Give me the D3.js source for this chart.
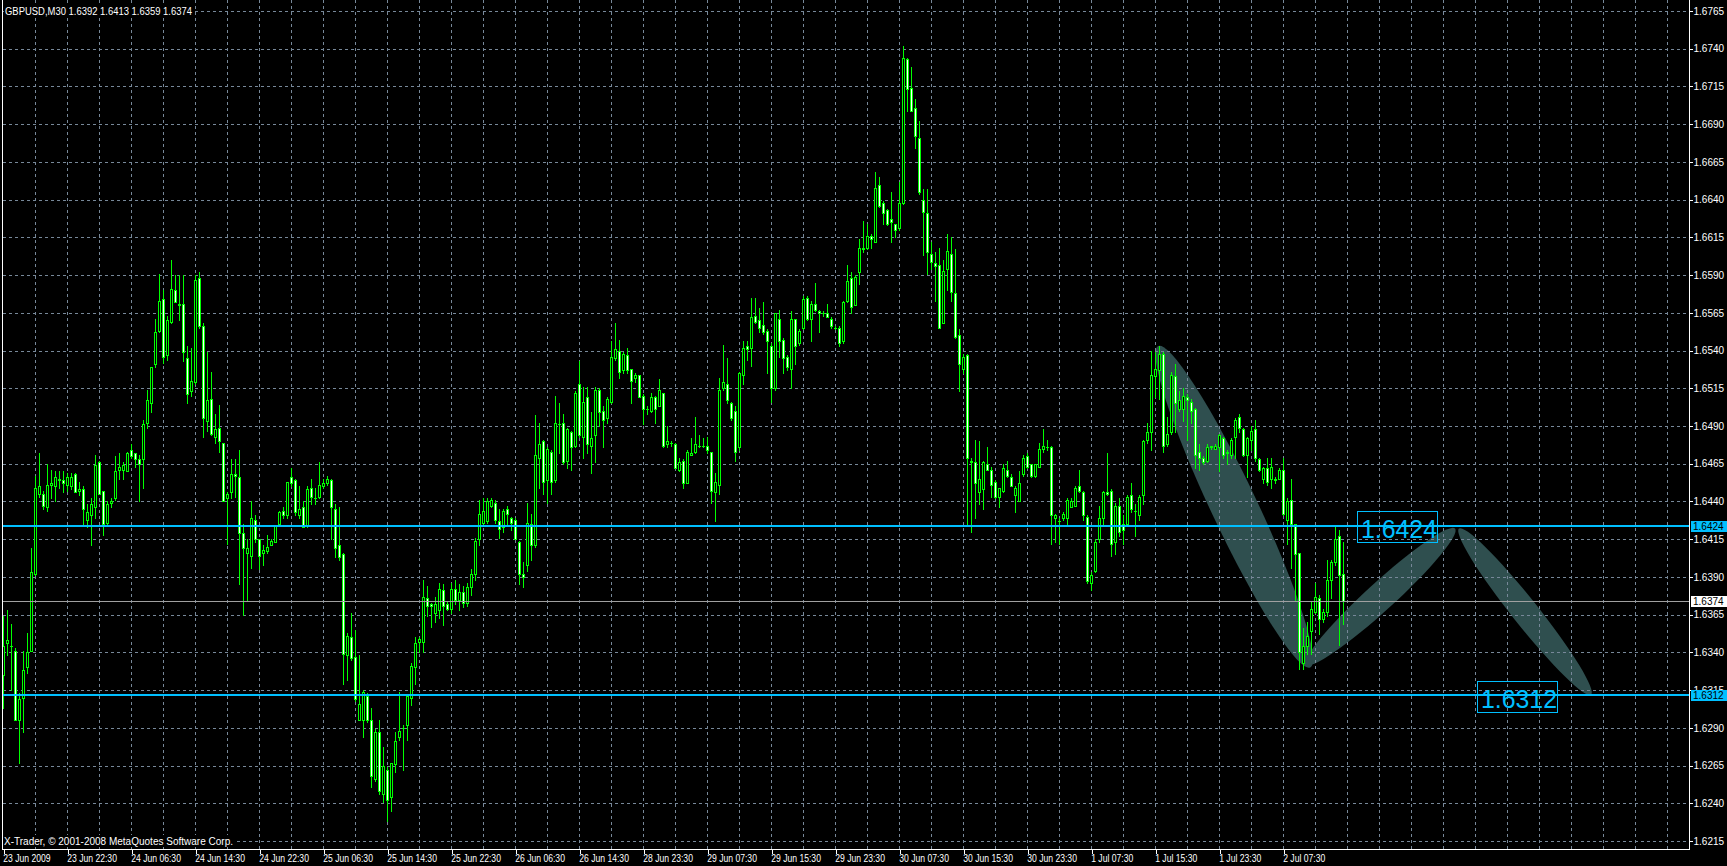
<!DOCTYPE html>
<html><head><meta charset="utf-8">
<script src="https://cdn.jsdelivr.net/npm/d3@7"></script>
<style>html,body{margin:0;padding:0;background:#000;overflow:hidden}text{font-family:"Liberation Sans",Arial,sans-serif}</style>
</head><body>
<svg id="c" width="1727" height="866"></svg>
<script>
const symbolTitle = "GBPUSD,M30  1.6392 1.6413 1.6359 1.6374";
const copyright = "X-Trader, \u00A9 2001-2008 MetaQuotes Software Corp.";

const open = [
1.6325,1.6346,1.6344,1.6341,1.6295,1.6310,1.6330,1.6341,1.6392,1.6445,1.6445,1.6436,
1.6451,1.6450,1.6455,1.6454,1.6451,1.6450,1.6458,1.6447,1.6448,1.6428,1.6431,1.6436,
1.6466,1.6447,1.6426,1.6439,1.6442,1.6461,1.6461,1.6460,1.6474,1.6472,1.6468,1.6468,
1.6492,1.6505,1.6531,1.6553,1.6574,1.6537,1.6559,1.6580,1.6571,1.6571,1.6535,1.6513,
1.6519,1.6588,1.6556,1.6493,1.6508,1.6483,1.6489,1.6479,1.6442,1.6446,1.6458,1.6456,
1.6419,1.6406,1.6404,1.6428,1.6415,1.6406,1.6407,1.6411,1.6413,1.6425,1.6434,1.6431,
1.6456,1.6454,1.6431,1.6436,1.6424,1.6449,1.6442,1.6443,1.6450,1.6452,1.6454,1.6435,
1.6411,1.6405,1.6338,1.6350,1.6337,1.6295,1.6295,1.6311,1.6295,1.6256,1.6287,1.6246,
1.6262,1.6244,1.6266,1.6284,1.6290,1.6292,1.6310,1.6330,1.6347,1.6347,1.6376,1.6372,
1.6366,1.6368,1.6381,1.6372,1.6369,1.6382,1.6375,1.6380,1.6373,1.6383,1.6392,1.6415,
1.6426,1.6427,1.6437,1.6439,1.6427,1.6423,1.6435,1.6429,1.6428,1.6413,1.6392,1.6398,
1.6425,1.6411,1.6469,1.6480,1.6454,1.6473,1.6454,1.6491,1.6492,1.6467,1.6486,1.6477,
1.6518,1.6483,1.6509,1.6477,1.6484,1.6514,1.6500,1.6495,1.6506,1.6535,1.6540,1.6527,
1.6537,1.6528,1.6522,1.6524,1.6510,1.6501,1.6500,1.6509,1.6503,1.6512,1.6478,1.6479,
1.6478,1.6461,1.6467,1.6452,1.6471,1.6473,1.6477,1.6477,1.6477,1.6473,1.6446,1.6451,
1.6515,1.6518,1.6505,1.6500,1.6476,1.6524,1.6543,1.6542,1.6563,1.6560,1.6557,1.6553,
1.6543,1.6515,1.6561,1.6547,1.6536,1.6528,1.6561,1.6545,1.6555,1.6575,1.6561,1.6571,
1.6566,1.6565,1.6565,1.6561,1.6555,1.6555,1.6546,1.6573,1.6588,1.6570,1.6592,1.6607,
1.6608,1.6616,1.6612,1.6650,1.6638,1.6633,1.6627,1.6624,1.6621,1.6638,1.6733,1.6714,
1.6701,1.6681,1.6640,1.6631,1.6604,1.6598,1.6597,1.6558,1.6594,1.6604,1.6578,1.6550,
1.6528,1.6537,1.6467,1.6466,1.6446,1.6448,1.6465,1.6461,1.6453,1.6443,1.6447,1.6461,
1.6456,1.6444,1.6440,1.6458,1.6470,1.6465,1.6457,1.6463,1.6475,1.6476,1.6476,1.6429,
1.6427,1.6429,1.6429,1.6436,1.6437,1.6450,1.6446,1.6430,1.6386,1.6394,1.6415,1.6429,
1.6446,1.6447,1.6413,1.6437,1.6425,1.6425,1.6444,1.6434,1.6431,1.6444,1.6481,1.6486,
1.6523,1.6527,1.6538,1.6478,1.6486,1.6523,1.6501,1.6501,1.6509,1.6506,1.6501,1.6473,
1.6469,1.6467,1.6477,1.6475,1.6476,1.6482,1.6472,1.6471,1.6483,1.6496,1.6488,1.6471,
1.6481,1.6488,1.6468,1.6455,1.6462,1.6455,1.6455,1.6455,1.6461,1.6428,1.6441,1.6425,
1.6406,1.6333,1.6344,1.6354,1.6367,1.6376,1.6362,1.6367,1.6388,1.6400,1.6417,1.6392];

const high = [
1.6364,1.6368,1.6359,1.6343,1.6313,1.6341,1.6353,1.6409,1.6457,1.6472,1.6447,1.6465,
1.6461,1.6460,1.6460,1.6460,1.6459,1.6459,1.6459,1.6453,1.6450,1.6438,1.6442,1.6471,
1.6467,1.6447,1.6440,1.6442,1.6470,1.6472,1.6466,1.6473,1.6478,1.6472,1.6471,1.6494,
1.6514,1.6529,1.6561,1.6591,1.6580,1.6563,1.6600,1.6590,1.6590,1.6590,1.6543,1.6542,
1.6590,1.6592,1.6558,1.6539,1.6526,1.6498,1.6504,1.6479,1.6446,1.6468,1.6468,1.6474,
1.6425,1.6415,1.6440,1.6431,1.6415,1.6411,1.6418,1.6415,1.6424,1.6434,1.6436,1.6453,
1.6462,1.6455,1.6450,1.6440,1.6450,1.6455,1.6449,1.6466,1.6455,1.6457,1.6455,1.6438,
1.6436,1.6406,1.6353,1.6366,1.6355,1.6338,1.6315,1.6313,1.6303,1.6289,1.6295,1.6277,
1.6264,1.6267,1.6287,1.6314,1.6292,1.6311,1.6333,1.6350,1.6350,1.6388,1.6384,1.6373,
1.6377,1.6386,1.6385,1.6374,1.6386,1.6388,1.6385,1.6384,1.6386,1.6395,1.6416,1.6441,
1.6442,1.6442,1.6442,1.6441,1.6435,1.6435,1.6437,1.6430,1.6429,1.6414,1.6400,1.6439,
1.6432,1.6497,1.6492,1.6481,1.6476,1.6474,1.6510,1.6505,1.6498,1.6489,1.6487,1.6513,
1.6533,1.6516,1.6516,1.6499,1.6516,1.6515,1.6503,1.6509,1.6546,1.6558,1.6547,1.6539,
1.6542,1.6528,1.6525,1.6524,1.6511,1.6503,1.6512,1.6510,1.6521,1.6512,1.6490,1.6480,
1.6479,1.6469,1.6468,1.6474,1.6482,1.6496,1.6484,1.6482,1.6483,1.6473,1.6459,1.6522,
1.6544,1.6535,1.6506,1.6503,1.6526,1.6546,1.6546,1.6575,1.6575,1.6568,1.6572,1.6554,
1.6545,1.6565,1.6567,1.6548,1.6537,1.6566,1.6561,1.6554,1.6576,1.6576,1.6573,1.6585,
1.6567,1.6566,1.6571,1.6562,1.6556,1.6556,1.6573,1.6597,1.6592,1.6590,1.6614,1.6626,
1.6624,1.6617,1.6658,1.6655,1.6639,1.6634,1.6645,1.6624,1.6652,1.6742,1.6734,1.6728,
1.6707,1.6692,1.6647,1.6647,1.6612,1.6605,1.6608,1.6600,1.6617,1.6615,1.6607,1.6554,
1.6538,1.6538,1.6469,1.6481,1.6480,1.6467,1.6476,1.6463,1.6454,1.6449,1.6465,1.6467,
1.6458,1.6450,1.6460,1.6471,1.6472,1.6465,1.6465,1.6479,1.6488,1.6481,1.6477,1.6432,
1.6429,1.6433,1.6442,1.6442,1.6450,1.6461,1.6447,1.6431,1.6393,1.6415,1.6437,1.6447,
1.6472,1.6448,1.6439,1.6442,1.6431,1.6444,1.6452,1.6438,1.6444,1.6481,1.6492,1.6540,
1.6539,1.6543,1.6539,1.6496,1.6526,1.6531,1.6513,1.6515,1.6511,1.6508,1.6502,1.6478,
1.6470,1.6478,1.6477,1.6478,1.6485,1.6483,1.6474,1.6482,1.6495,1.6498,1.6489,1.6483,
1.6490,1.6494,1.6469,1.6463,1.6469,1.6469,1.6456,1.6462,1.6469,1.6442,1.6455,1.6425,
1.6406,1.6356,1.6360,1.6374,1.6386,1.6378,1.6369,1.6401,1.6401,1.6423,1.6421,1.6413];

const low = [
1.6303,1.6338,1.6315,1.6295,1.6267,1.6287,1.6326,1.6341,1.6391,1.6443,1.6435,1.6434,
1.6442,1.6440,1.6449,1.6446,1.6447,1.6448,1.6446,1.6444,1.6424,1.6423,1.6411,1.6429,
1.6445,1.6418,1.6425,1.6436,1.6441,1.6455,1.6455,1.6460,1.6469,1.6463,1.6440,1.6449,
1.6489,1.6499,1.6529,1.6552,1.6532,1.6534,1.6558,1.6572,1.6560,1.6533,1.6505,1.6510,
1.6518,1.6555,1.6483,1.6487,1.6484,1.6479,1.6473,1.6440,1.6412,1.6442,1.6443,1.6385,
1.6365,1.6374,1.6396,1.6413,1.6395,1.6398,1.6406,1.6411,1.6413,1.6425,1.6429,1.6429,
1.6450,1.6431,1.6429,1.6423,1.6423,1.6438,1.6438,1.6442,1.6449,1.6451,1.6415,1.6403,
1.6401,1.6319,1.6322,1.6335,1.6308,1.6295,1.6284,1.6294,1.6251,1.6255,1.6246,1.6241,
1.6228,1.6235,1.6261,1.6282,1.6262,1.6282,1.6305,1.6319,1.6340,1.6340,1.6364,1.6357,
1.6360,1.6363,1.6358,1.6368,1.6366,1.6372,1.6368,1.6370,1.6371,1.6378,1.6388,1.6411,
1.6425,1.6426,1.6436,1.6426,1.6416,1.6420,1.6424,1.6421,1.6415,1.6385,1.6383,1.6394,
1.6401,1.6410,1.6449,1.6445,1.6439,1.6445,1.6453,1.6472,1.6465,1.6462,1.6461,1.6476,
1.6483,1.6469,1.6472,1.6459,1.6466,1.6490,1.6476,1.6492,1.6505,1.6534,1.6522,1.6525,
1.6525,1.6505,1.6519,1.6509,1.6491,1.6498,1.6499,1.6492,1.6503,1.6476,1.6476,1.6477,
1.6462,1.6460,1.6449,1.6452,1.6471,1.6472,1.6476,1.6476,1.6472,1.6439,1.6427,1.6445,
1.6514,1.6505,1.6494,1.6467,1.6474,1.6518,1.6534,1.6530,1.6558,1.6552,1.6551,1.6525,
1.6506,1.6514,1.6536,1.6525,1.6527,1.6515,1.6531,1.6544,1.6554,1.6560,1.6546,1.6566,
1.6552,1.6563,1.6562,1.6555,1.6554,1.6543,1.6545,1.6572,1.6565,1.6570,1.6584,1.6605,
1.6607,1.6608,1.6612,1.6635,1.6624,1.6623,1.6612,1.6615,1.6620,1.6637,1.6699,1.6699,
1.6674,1.6644,1.6603,1.6591,1.6594,1.6573,1.6555,1.6558,1.6580,1.6573,1.6548,1.6513,
1.6525,1.6424,1.6420,1.6429,1.6438,1.6435,1.6461,1.6443,1.6442,1.6436,1.6446,1.6456,
1.6450,1.6433,1.6440,1.6457,1.6462,1.6456,1.6456,1.6463,1.6473,1.6474,1.6412,1.6413,
1.6412,1.6428,1.6425,1.6436,1.6437,1.6446,1.6428,1.6386,1.6381,1.6393,1.6413,1.6425,
1.6444,1.6404,1.6405,1.6417,1.6412,1.6424,1.6433,1.6417,1.6428,1.6438,1.6479,1.6474,
1.6509,1.6508,1.6473,1.6477,1.6485,1.6486,1.6500,1.6493,1.6481,1.6492,1.6462,1.6461,
1.6465,1.6466,1.6475,1.6475,1.6460,1.6469,1.6465,1.6469,1.6469,1.6486,1.6470,1.6456,
1.6474,1.6467,1.6460,1.6452,1.6451,1.6449,1.6452,1.6455,1.6431,1.6412,1.6396,1.6374,
1.6329,1.6329,1.6339,1.6339,1.6366,1.6352,1.6360,1.6364,1.6376,1.6398,1.6345,1.6359];

const close = [
1.6344,1.6348,1.6344,1.6295,1.6309,1.6328,1.6340,1.6393,1.6449,1.6450,1.6437,1.6451,
1.6452,1.6456,1.6454,1.6452,1.6456,1.6456,1.6446,1.6448,1.6435,1.6433,1.6438,1.6464,
1.6445,1.6425,1.6438,1.6440,1.6460,1.6463,1.6464,1.6472,1.6470,1.6468,1.6465,1.6491,
1.6507,1.6529,1.6552,1.6573,1.6536,1.6560,1.6581,1.6572,1.6570,1.6539,1.6511,1.6520,
1.6587,1.6556,1.6495,1.6507,1.6485,1.6488,1.6480,1.6440,1.6445,1.6458,1.6457,1.6419,
1.6409,1.6409,1.6429,1.6415,1.6404,1.6408,1.6410,1.6414,1.6424,1.6433,1.6431,1.6453,
1.6452,1.6433,1.6435,1.6423,1.6448,1.6443,1.6442,1.6451,1.6452,1.6455,1.6436,1.6409,
1.6403,1.6339,1.6351,1.6336,1.6309,1.6306,1.6314,1.6295,1.6258,1.6287,1.6248,1.6265,
1.6242,1.6267,1.6281,1.6288,1.6290,1.6311,1.6331,1.6346,1.6349,1.6377,1.6371,1.6371,
1.6372,1.6382,1.6371,1.6369,1.6382,1.6375,1.6380,1.6373,1.6383,1.6392,1.6414,1.6432,
1.6434,1.6440,1.6441,1.6428,1.6422,1.6434,1.6432,1.6426,1.6415,1.6392,1.6390,1.6426,
1.6411,1.6471,1.6478,1.6453,1.6475,1.6453,1.6492,1.6491,1.6466,1.6488,1.6476,1.6512,
1.6484,1.6506,1.6478,1.6482,1.6514,1.6499,1.6494,1.6508,1.6536,1.6541,1.6526,1.6538,
1.6527,1.6520,1.6524,1.6509,1.6501,1.6501,1.6509,1.6501,1.6514,1.6477,1.6480,1.6479,
1.6462,1.6466,1.6452,1.6473,1.6472,1.6478,1.6477,1.6477,1.6474,1.6447,1.6453,1.6514,
1.6519,1.6507,1.6495,1.6473,1.6525,1.6542,1.6541,1.6562,1.6559,1.6555,1.6552,1.6546,
1.6515,1.6565,1.6546,1.6535,1.6529,1.6561,1.6543,1.6553,1.6574,1.6561,1.6571,1.6567,
1.6565,1.6565,1.6562,1.6556,1.6555,1.6545,1.6572,1.6586,1.6569,1.6589,1.6608,1.6608,
1.6616,1.6614,1.6648,1.6636,1.6631,1.6624,1.6625,1.6620,1.6638,1.6734,1.6713,1.6699,
1.6682,1.6645,1.6632,1.6605,1.6599,1.6596,1.6555,1.6593,1.6606,1.6579,1.6549,1.6531,
1.6536,1.6469,1.6466,1.6452,1.6455,1.6466,1.6461,1.6451,1.6443,1.6449,1.6462,1.6457,
1.6450,1.6449,1.6452,1.6469,1.6463,1.6457,1.6465,1.6475,1.6477,1.6476,1.6431,1.6431,
1.6427,1.6432,1.6441,1.6440,1.6449,1.6447,1.6431,1.6387,1.6391,1.6413,1.6429,1.6446,
1.6445,1.6412,1.6437,1.6420,1.6421,1.6443,1.6435,1.6434,1.6443,1.6480,1.6486,1.6524,
1.6528,1.6538,1.6477,1.6485,1.6524,1.6505,1.6507,1.6510,1.6507,1.6500,1.6471,1.6469,
1.6466,1.6476,1.6476,1.6477,1.6484,1.6471,1.6473,1.6481,1.6494,1.6489,1.6471,1.6482,
1.6487,1.6469,1.6461,1.6462,1.6453,1.6463,1.6454,1.6461,1.6432,1.6440,1.6425,1.6405,
1.6340,1.6344,1.6351,1.6369,1.6377,1.6362,1.6367,1.6388,1.6400,1.6415,1.6391,1.6374];

const timeLabels = ["23 Jun 2009","23 Jun 22:30","24 Jun 06:30","24 Jun 14:30","24 Jun 22:30",
"25 Jun 06:30","25 Jun 14:30","25 Jun 22:30","26 Jun 06:30","26 Jun 14:30","28 Jun 23:30",
"29 Jun 07:30","29 Jun 15:30","29 Jun 23:30","30 Jun 07:30","30 Jun 15:30","30 Jun 23:30",
"1 Jul 07:30","1 Jul 15:30","1 Jul 23:30","2 Jul 07:30"];
const timeLabelBars = [0,16,32,48,64,80,96,112,128,144,160,176,192,208,224,240,256,272,288,304,320];

const priceTicks = [1.6215,1.6240,1.6265,1.6290,1.6315,1.6340,1.6365,1.6390,1.6415,1.6440,1.6465,1.6490,
1.6515,1.6540,1.6565,1.6590,1.6615,1.6640,1.6665,1.6690,1.6715,1.6740,1.6765];

const levelPrices = [1.6424, 1.6312];
const bidPrice = 1.6374;

// ellipse objects: anchor points (bar index, price)
const ellipseBar1 = [288.8, 325.8, 364];
const ellipsePrice1 = [1.6543, 1.6332, 1.6422];
const ellipseBar2 = [326.8, 363, 397];
const ellipsePrice2 = [1.6330, 1.6422, 1.6312];

// text objects: anchor (bar, price)
const textLabels = ["1.6424", "1.6312"];
const textBars = [338.6, 368.6];
const textPrices = [1.6434, 1.6321];

// ---------- drawing ----------
const W = 1727, H = 866, plotL = 2, plotR = 1689, plotB = 849;
const svg = d3.select("#c").attr("shape-rendering", "crispEdges");
const x = d3.scaleLinear().domain([0, 335]).range([3, 1343]);
const y = d3.scaleLinear().domain([1.6765, 1.6215]).range([11, 841]);

svg.append("rect").attr("width", W).attr("height", H).attr("fill", "#000");

// ellipses (background objects)
const ellipseWidths = [46, 28, 26];
const gE = svg.append("g").attr("shape-rendering", "geometricPrecision");
ellipseBar1.forEach((b, i) => {
  const x1 = x(b), y1 = y(ellipsePrice1[i]), x2 = x(ellipseBar2[i]), y2 = y(ellipsePrice2[i]);
  const cx = (x1 + x2) / 2, cy = (y1 + y2) / 2;
  const len = Math.hypot(x2 - x1, y2 - y1), ang = Math.atan2(y2 - y1, x2 - x1) * 180 / Math.PI;
  gE.append("ellipse").attr("cx", cx).attr("cy", cy).attr("rx", len / 2).attr("ry", ellipseWidths[i] / 2)
    .attr("transform", `rotate(${ang} ${cx} ${cy})`).attr("fill", "#2F4F4F");
});

// grid
const gridColor = "#778899";
const gG = svg.append("g").attr("stroke", gridColor).attr("stroke-width", 1).attr("stroke-dasharray", "3,3");
priceTicks.forEach(p => {
  const yy = Math.round(y(p)) + 0.5;
  gG.append("line").attr("x1", plotL + 1).attr("x2", plotR).attr("y1", yy).attr("y2", yy);
});
const gridBars = d3.range(8, 420, 8).filter(b => x(b) < plotR);
gridBars.forEach(b => {
  const xx = Math.round(x(b)) + 0.5;
  gG.append("line").attr("x1", xx).attr("x2", xx).attr("y1", 0).attr("y2", plotB);
});

// candles
const gC = svg.append("g");
const idx = d3.range(open.length);
idx.forEach(i => {
  const c = Math.round(x(i));
  const o = open[i], cl = close[i];
  const hi = Math.max(high[i], o, cl), lo = Math.min(low[i], o, cl);
  const yh = Math.round(y(hi)), yl = Math.round(y(lo));
  gC.append("rect").attr("x", c).attr("y", yh).attr("width", 1).attr("height", yl - yh + 1).attr("fill", "#00FF00");
  const top = Math.round(y(Math.max(o, cl))), bot = Math.round(y(Math.min(o, cl)));
  gC.append("rect").attr("x", c - 1).attr("y", top).attr("width", 3).attr("height", bot - top + 1).attr("fill", "#00FF00");
  if (bot - top - 1 > 0) {
    gC.append("rect").attr("x", c).attr("y", top + 1).attr("width", 1).attr("height", bot - top - 1)
      .attr("fill", cl < o ? "#FFFFFF" : "#000000");
  }
});

// bid line
const yb = Math.round(y(bidPrice)) + 0.5;
svg.append("line").attr("x1", plotL + 1).attr("x2", plotR).attr("y1", yb).attr("y2", yb).attr("stroke", "#A0A0A0");

// text boxes
const lblColor = "#00BFFF";
textLabels.forEach((t, i) => {
  const lx = Math.round(x(textBars[i])), ly = Math.round(y(textPrices[i]));
  svg.append("rect").attr("x", lx + 0.5).attr("y", ly + 0.5).attr("width", 80).attr("height", 31)
    .attr("fill", "none").attr("stroke", lblColor);
  svg.append("text").attr("x", lx + 4).attr("y", ly + 27).attr("fill", lblColor)
    .attr("font-size", 26).attr("textLength", 76).attr("lengthAdjust", "spacingAndGlyphs").text(t);
});

// level lines
levelPrices.forEach(p => {
  const yy = Math.round(y(p));
  svg.append("rect").attr("x", plotL + 1).attr("y", yy - 1).attr("width", plotR - plotL - 1).attr("height", 2).attr("fill", lblColor);
});

// header & copyright
svg.append("rect").attr("x", 4).attr("y", 5).attr("width", 191).attr("height", 12).attr("fill", "#000");
svg.append("text").attr("x", 5).attr("y", 14.5).attr("fill", "#fff").attr("font-size", 10)
  .attr("textLength", 187).attr("lengthAdjust", "spacingAndGlyphs").text(symbolTitle);
svg.append("rect").attr("x", 3).attr("y", 835).attr("width", 232).attr("height", 12).attr("fill", "#000");
svg.append("text").attr("x", 4).attr("y", 844.5).attr("fill", "#fff").attr("font-size", 10)
  .attr("textLength", 229).attr("lengthAdjust", "spacingAndGlyphs").text(copyright);

// frame
svg.append("path").attr("d", `M${plotL + 0.5},0V${plotB + 0.5}H${plotR + 0.5}V0`).attr("fill", "none").attr("stroke", "#fff");

// price axis
const yAxis = d3.axisRight(y).tickValues(priceTicks).tickSize(3).tickPadding(1).tickFormat(d3.format(".4f"));
const gY = svg.append("g").attr("transform", `translate(${plotR + 0.5},0)`).call(yAxis);
gY.select(".domain").remove();
gY.selectAll("line").attr("stroke", "#fff");
gY.selectAll("text").attr("fill", "#fff").attr("font-size", 10).attr("font-family", "Liberation Sans, Arial, sans-serif");

// highlighted price boxes
const boxes = [{p: levelPrices[0], bg: lblColor, fg: "#000"}, {p: levelPrices[1], bg: lblColor, fg: "#000"}, {p: bidPrice, bg: "#fff", fg: "#000"}];
boxes.forEach(bx => {
  const yy = Math.round(y(bx.p));
  svg.append("rect").attr("x", plotR + 2).attr("y", yy - 5).attr("width", W - plotR - 2).attr("height", 11).attr("fill", bx.bg);
  svg.append("text").attr("x", plotR + 4).attr("y", yy + 4).attr("fill", bx.fg).attr("font-size", 10).text(d3.format(".4f")(bx.p));
});

// time axis
const xAxis = d3.axisBottom(x).tickValues(timeLabelBars).tickSize(4).tickFormat((d, i) => timeLabels[i]);
const gX = svg.append("g").attr("transform", `translate(0.5,${plotB + 0.5})`).call(xAxis);
gX.select(".domain").remove();
gX.selectAll("line").attr("stroke", "#fff");
gX.selectAll("text").attr("fill", "#fff").attr("font-size", 10.5).attr("font-family", "Liberation Sans, Arial, sans-serif")
  .attr("text-anchor", "start").attr("x", -1).attr("y", 13).attr("dy", 0).attr("transform", "scale(0.82,1)");
</script>
</body></html>
